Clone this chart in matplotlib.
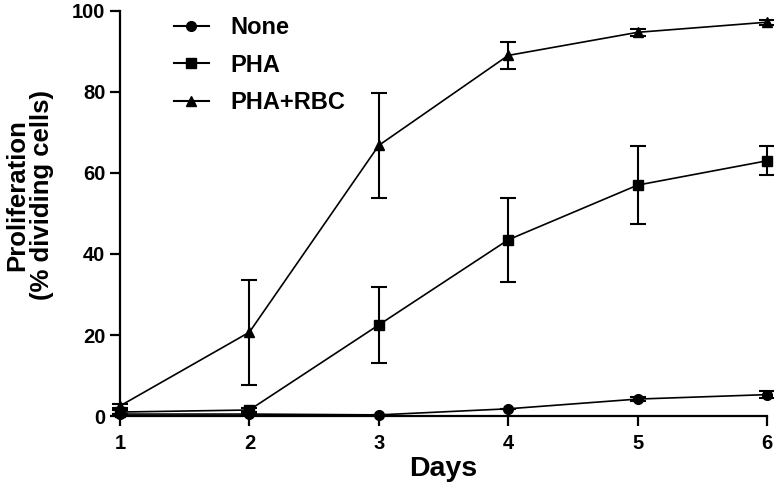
import matplotlib
matplotlib.use("Agg")
import matplotlib.pyplot as plt
from matplotlib.lines import Line2D

plt.rcParams['font.family'] = ['Liberation Sans', 'DejaVu Sans']
plt.rcParams['font.weight'] = 'bold'

days = [1, 2, 3, 4, 5, 6]
none_vals = [0.5, 0.5, 0.3, 1.8, 4.2, 5.3]
none_err = [0, 0, 0, 0, 0.5, 0.8]
pha_vals = [1.0, 1.5, 22.5, 43.5, 57.0, 63.0]
pha_err = [0.5, 0.5, 9.4, 10.3, 9.6, 3.6]
rbc_vals = [2.5, 20.7, 66.8, 89.0, 94.7, 97.2]
rbc_err = [0.5, 13.0, 13.0, 3.3, 0.8, 0.6]

fig = plt.figure(figsize=(7.74, 4.93), dpi=100)
ax = fig.add_axes([0.155, 0.156, 0.836, 0.822])

common = dict(color='black', lw=1.2, ecolor='black', elinewidth=1.5,
              capsize=6, capthick=1.5, clip_on=False, markersize=7)
ax.errorbar(days, none_vals, yerr=none_err, marker='o', **common)
ax.errorbar(days, pha_vals, yerr=pha_err, marker='s', **common)
ax.errorbar(days, rbc_vals, yerr=rbc_err, marker='^', **common)

ax.set_xlim(1, 6)
ax.set_ylim(0, 100)
ax.set_xticks(days)
ax.set_yticks([0, 20, 40, 60, 80, 100])
for s in ['top', 'right']:
    ax.spines[s].set_visible(False)
for s in ['left', 'bottom']:
    ax.spines[s].set_linewidth(1.6)
ax.tick_params(width=1.6, length=7, labelsize=14.5)
ax.tick_params(axis='x', pad=6)
for lab in ax.get_xticklabels() + ax.get_yticklabels():
    lab.set_fontweight('bold')

ax.set_xlabel('Days', fontsize=20.5, fontweight='bold', labelpad=2)
ax.set_ylabel('Proliferation\n(% dividing cells)', fontsize=18.5, fontweight='bold',
              linespacing=1.05)
ax.yaxis.set_label_coords(-0.102, 0.545)

handles = [Line2D([], [], color='black', lw=1.5, marker=m, markersize=7)
           for m in ['o', 's', '^']]
leg = ax.legend(handles, ['None', 'PHA', 'PHA+RBC'], loc='upper left',
                bbox_to_anchor=(0.05, 1.04), frameon=False, fontsize=17,
                handlelength=1.5, handletextpad=0.9, labelspacing=0.62)
for t in leg.get_texts():
    t.set_fontweight('bold')

fig.savefig('out.png', dpi=100)
